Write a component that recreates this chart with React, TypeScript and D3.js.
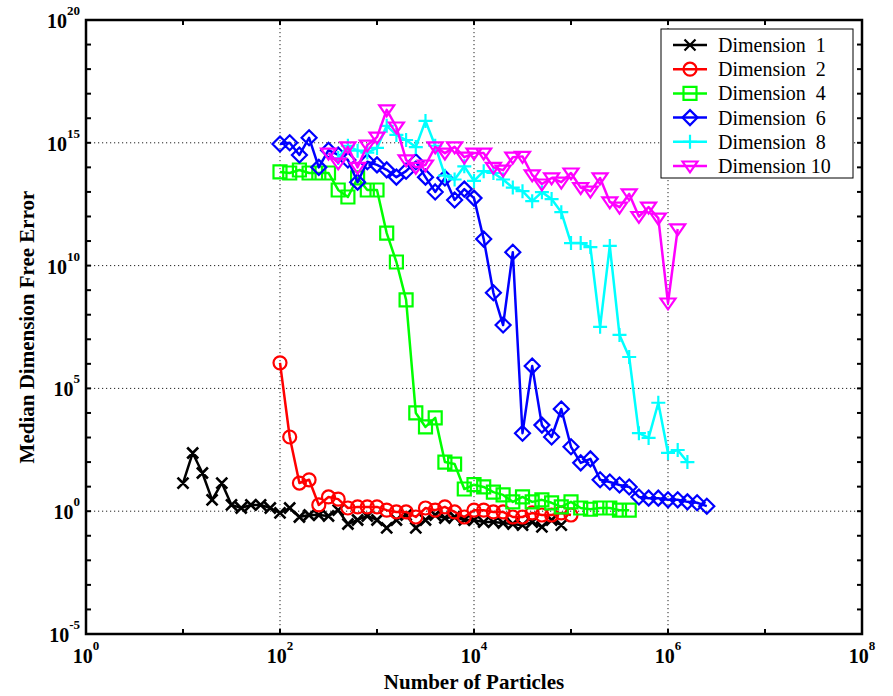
import React from 'react';
import * as d3 from 'd3';

// Number of particles (shared grid of x values)
const PARTICLES = [10, 12.59, 15.85, 19.95, 25.12, 31.62, 39.81, 50.12, 63.1, 79.43, 100, 125.9, 158.5, 199.5, 251.2, 316.2, 398.1, 501.2, 631, 794.3, 1000, 1259, 1585, 1995, 2512, 3162, 3981, 5012, 6310, 7943, 1e4, 12589, 15849, 19953, 25119, 31623, 39811, 50119, 63096, 79433, 1e5, 125893, 158489, 199526, 251189, 316228, 398107, 501187, 630957, 794328, 1e6, 1258925, 1584893, 1995262, 2511886];

const DIM1 = [14, 235, 36, 2.9, 14, 1.8, 1.35, 1.8, 1.8, 1.35, 0.85, 1.35, 0.58, 0.7, 0.7, 0.64, 1.1, 0.3, 0.44, 0.64, 0.44, 0.21, 0.44, 0.7, 0.21, 0.44, 0.7, 0.53, 0.58, 0.44, 0.44, 0.36, 0.36, 0.33, 0.3, 0.27, 0.36, 0.23, 0.44, 0.27];
const DIM2 = [1.1e6, 1050, 14, 19, 1.8, 3.8, 3.1, 1.35, 1.5, 1.5, 1.5, 1.1, 0.93, 0.93, 0.58, 1.35, 1.1, 1.5, 0.93, 0.58, 1.1, 1.1, 0.93, 0.93, 0.58, 0.58, 0.85, 0.7, 0.7, 0.85, 0.7];
const DIM4 = [6.5e13, 5.9e13, 7.8e13, 5.9e13, 5.9e13, 5.9e13, 1.2e13, 6.2e12, 3.7e13, 1.2e13, 1.2e13, 2.1e11, 1.4e10, 4e8, 1e4, 2.7e3, 6.3e3, 100, 83, 8, 12, 9.7, 6, 4.6, 2.4, 3.8, 2.4, 2.9, 2.2, 1.5, 2.4, 1.35, 1.2, 1.35, 1.35, 1.1, 1.1];
const DIM6 = [8.9e14, 1e15, 3.2e14, 1.6e15, 1e14, 5e14, 3.2e14, 2e14, 2.5e13, 1.7e14, 1.26e14, 7.9e13, 4e13, 7e13, 1.7e14, 4e13, 1e13, 3.7e13, 4.7e12, 1.3e13, 5.6e12, 1.2e11, 7.8e8, 3.8e7, 3.5e10, 1.5e3, 8.1e5, 3.2e3, 1.05e3, 1.45e4, 420, 93, 135, 19, 15.5, 11.7, 9.7, 3.8, 3.4, 3.4, 2.9, 2.9, 2.4, 2.2, 1.6];
const DIM8 = [2.4e14, 7.6e14, 4.8e14, 4e14, 6.2e14, 4.9e15, 2.1e15, 1.3e15, 6.7e14, 7.8e15, 7.6e14, 4.6e13, 3.2e13, 1.1e14, 2.8e13, 7e13, 5.9e13, 3.2e13, 1.5e13, 1.07e13, 4.2e12, 9.8e12, 5.1e12, 1.5e12, 8.3e10, 8.3e10, 5.7e10, 3.2e7, 6.3e10, 1.5e7, 1.9e6, 1500, 960, 2.6e4, 235, 310, 100];
const DIM10 = [3.8e14, 1.5e14, 6.8e14, 1e14, 8.1e14, 1.7e15, 2.2e16, 4.4e15, 2e14, 1e14, 1.25e14, 6.8e14, 3.8e14, 6.8e14, 2.6e14, 3.8e14, 3.8e14, 1e14, 7.7e13, 2.6e14, 2.8e14, 4.9e13, 2.1e13, 3.7e13, 2.5e13, 5.9e13, 1.5e13, 1.07e13, 3.7e13, 3.9e12, 2.4e12, 8.3e12, 1e12, 2.4e12, 8.6e11, 3e8, 3.1e11];

const SERIES_NAMES = ['Dimension  1', 'Dimension  2', 'Dimension  4', 'Dimension  6', 'Dimension  8', 'Dimension 10'];
const SERIES_VALUES = [DIM1, DIM2, DIM4, DIM6, DIM8, DIM10];
const SERIES_START = [0, 10, 10, 10, 16, 15];
const SERIES_COLORS = ['#000000', '#ff0000', '#00ff00', '#0000ff', '#00ffff', '#ff00ff'];
const SERIES_MARKERS = ['x', 'o', 's', 'd', '+', 'v'];

const X_TICK_EXP = [0, 2, 4, 6, 8];
const Y_TICK_EXP = [-5, 0, 5, 10, 15, 20];

const W = 893, H = 696;
const L = 86, R = 862, T = 20, B = 634;
const FONT = '"Liberation Serif", "Times New Roman", serif';

function markerPath(type: string, cx: number, cy: number): string {
  switch (type) {
    case 'x': {
      const s = 5.5;
      return `M${cx - s},${cy - s}L${cx + s},${cy + s}M${cx - s},${cy + s}L${cx + s},${cy - s}`;
    }
    case 'o': {
      const r = 6.5;
      return `M${cx + r},${cy}A${r},${r} 0 1,1 ${cx - r},${cy}A${r},${r} 0 1,1 ${cx + r},${cy}Z`;
    }
    case 's': {
      const s = 6.5;
      return `M${cx - s},${cy - s}H${cx + s}V${cy + s}H${cx - s}Z`;
    }
    case 'd': {
      const s = 7.5;
      return `M${cx},${cy - s}L${cx + s},${cy}L${cx},${cy + s}L${cx - s},${cy}Z`;
    }
    case '+': {
      const s = 7;
      return `M${cx - s},${cy}H${cx + s}M${cx},${cy - s}V${cy + s}`;
    }
    case 'v': {
      const s = 7.5;
      return `M${cx - s},${cy - s * 0.6}H${cx + s}L${cx},${cy + s * 0.85}Z`;
    }
  }
  return '';
}

export default function App() {
  const x = d3.scaleLog().domain([1, 1e8]).range([L, R]);
  const y = d3.scaleLog().domain([1e-5, 1e20]).range([B, T]);

  const xMinor = d3.range(0, 9).map((e) => Math.pow(10, e));
  const yMinor = d3.range(-5, 21).map((e) => Math.pow(10, e));

  const line = d3
    .line<[number, number]>()
    .x((d) => x(d[0]))
    .y((d) => y(d[1]));

  const series = SERIES_VALUES.map((vals, i) =>
    vals.map((v, j) => [PARTICLES[SERIES_START[i] + j], v] as [number, number])
  );

  const tickLen = 5;

  return (
    <svg width={W} height={H} style={{ position: 'absolute', left: 0, top: 0, background: '#fff' }}>
      <rect x={0} y={0} width={W} height={H} fill="#fff" />
      {/* grid */}
      {X_TICK_EXP.filter((e) => e > 0 && e < 8).map((e) => (
        <line key={'gx' + e} x1={x(Math.pow(10, e))} x2={x(Math.pow(10, e))} y1={T} y2={B}
          stroke="#222" strokeWidth={1} strokeDasharray="1.2 2.8" />
      ))}
      {Y_TICK_EXP.filter((e) => e > -5 && e < 20).map((e) => (
        <line key={'gy' + e} x1={L} x2={R} y1={y(Math.pow(10, e))} y2={y(Math.pow(10, e))}
          stroke="#222" strokeWidth={1} strokeDasharray="1.2 2.8" />
      ))}

      {/* series */}
      <g>
        {series.map((pts, i) => (
          <g key={'s' + i}>
            <path d={line(pts) || ''} fill="none" stroke={SERIES_COLORS[i]} strokeWidth={2.5} strokeLinejoin="round" />
            <path
              d={pts.map((p) => markerPath(SERIES_MARKERS[i], x(p[0]), y(p[1]))).join('')}
              fill="none" stroke={SERIES_COLORS[i]} strokeWidth={i === 0 ? 2.6 : 2.2}
            />
          </g>
        ))}
      </g>

      {/* ticks */}
      {xMinor.map((v, i) => (
        <g key={'xt' + i} stroke="#000" strokeWidth={2}>
          <line x1={x(v)} x2={x(v)} y1={B} y2={B - tickLen} />
          <line x1={x(v)} x2={x(v)} y1={T} y2={T + tickLen} />
        </g>
      ))}
      {yMinor.map((v, i) => (
        <g key={'yt' + i} stroke="#000" strokeWidth={2}>
          <line x1={L} x2={L + tickLen} y1={y(v)} y2={y(v)} />
          <line x1={R} x2={R - tickLen} y1={y(v)} y2={y(v)} />
        </g>
      ))}
      {/* axes box */}
      <rect x={L} y={T} width={R - L} height={B - T} fill="none" stroke="#000" strokeWidth={2.5} />

      {/* tick labels */}
      {X_TICK_EXP.map((e) => (
        <text key={'xl' + e} x={x(Math.pow(10, e))} y={663} textAnchor="middle"
          fontFamily={FONT} fontWeight="bold" fontSize={20}>
          10<tspan fontSize={13} dy={-13}>{e}</tspan>
        </text>
      ))}
      {Y_TICK_EXP.map((e) => (
        <text key={'yl' + e} x={80} y={y(Math.pow(10, e)) + 8} textAnchor="end"
          fontFamily={FONT} fontWeight="bold" fontSize={20}>
          10<tspan fontSize={13} dy={-13}>{e}</tspan>
        </text>
      ))}

      {/* axis labels */}
      <text x={(L + R) / 2} y={689} textAnchor="middle" fontFamily={FONT} fontWeight="bold" fontSize={21}>
        Number of Particles
      </text>
      <text transform={`translate(34,${(T + B) / 2}) rotate(-90)`} textAnchor="middle"
        fontFamily={FONT} fontWeight="bold" fontSize={21}>
        Median Dimension Free Error
      </text>

      {/* legend */}
      <g>
        <rect x={661} y={29} width={192} height={149} fill="#fff" stroke="#000" strokeWidth={1} />
        {SERIES_NAMES.map((name, i) => {
          const ly = 45 + i * 24.2;
          return (
            <g key={'lg' + i}>
              <line x1={673} x2={707} y1={ly} y2={ly} stroke={SERIES_COLORS[i]} strokeWidth={2.5} />
              <path d={markerPath(SERIES_MARKERS[i], 690, ly)} fill="none" stroke={SERIES_COLORS[i]} strokeWidth={2.2} />
              <text x={718} y={ly + 7} fontFamily={FONT} fontSize={20} style={{ whiteSpace: 'pre' }}>
                {name}
              </text>
            </g>
          );
        })}
      </g>
    </svg>
  );
}
